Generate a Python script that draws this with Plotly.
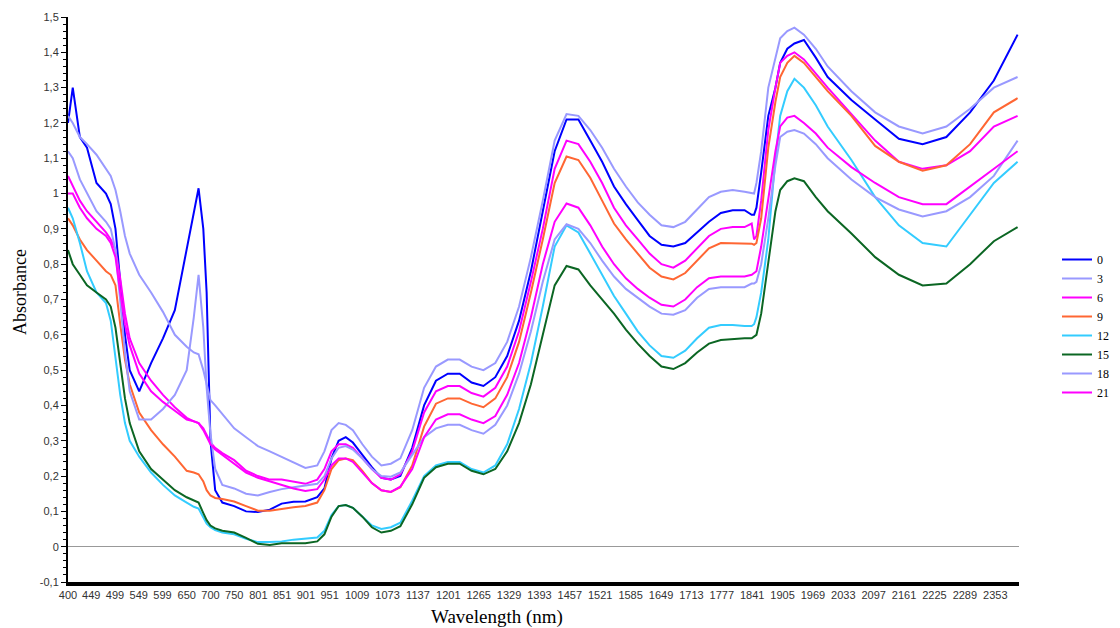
import plotly.graph_objects as go

wavelength = [400, 410, 425, 440, 460, 480, 490, 500, 510, 520, 530, 550, 575, 600, 625, 650, 665, 675, 685, 692,
              700, 710, 725, 750, 775, 800, 825, 850, 875, 900, 925, 940, 955, 970, 985, 1000, 1020, 1040, 1060, 1080,
              1100, 1125, 1150, 1175, 1200, 1225, 1250, 1275, 1300, 1325, 1350, 1375, 1400, 1425, 1450, 1475, 1500,
              1525, 1550, 1575, 1600, 1625, 1650, 1675, 1700, 1725, 1750, 1775, 1800, 1825, 1840, 1845, 1850, 1860,
              1875, 1890, 1900, 1915, 1930, 1950, 1975, 2000, 2050, 2100, 2150, 2200, 2250, 2300, 2350, 2400]

s0 = [1.20, 1.30, 1.16, 1.13, 1.03, 1.00, 0.97, 0.90, 0.75, 0.60, 0.50, 0.44, 0.52, 0.59, 0.67, 0.84, 0.95, 1.015, 0.90, 0.72,
      0.30, 0.16, 0.125, 0.115, 0.10, 0.098, 0.105, 0.122, 0.127, 0.128, 0.14, 0.165, 0.25, 0.30, 0.31, 0.295, 0.26, 0.225, 0.195, 0.19,
      0.20, 0.28, 0.40, 0.47, 0.49, 0.49, 0.465, 0.455, 0.48, 0.54, 0.64, 0.78, 0.95, 1.12, 1.21, 1.21, 1.15,
      1.09, 1.02, 0.97, 0.925, 0.88, 0.855, 0.85, 0.86, 0.89, 0.92, 0.945, 0.953, 0.953, 0.94, 0.94, 0.96, 1.06,
      1.22, 1.30, 1.37, 1.41, 1.425, 1.435, 1.385, 1.33, 1.265, 1.21, 1.155, 1.14, 1.16, 1.23, 1.32, 1.45]

s3 = [1.22, 1.20, 1.16, 1.14, 1.11, 1.07, 1.05, 1.01, 0.95, 0.88, 0.83, 0.77, 0.72, 0.665, 0.60, 0.566, 0.55, 0.545, 0.50, 0.46,
      0.415, 0.40, 0.375, 0.335, 0.31, 0.285, 0.27, 0.255, 0.24, 0.223, 0.23, 0.27, 0.33, 0.35, 0.345, 0.33, 0.29, 0.255, 0.23, 0.235,
      0.25, 0.33, 0.45, 0.51, 0.53, 0.53, 0.51, 0.50, 0.52, 0.58, 0.68, 0.82, 0.98, 1.15, 1.225, 1.22, 1.18,
      1.13, 1.07, 1.02, 0.975, 0.94, 0.91, 0.905, 0.92, 0.955, 0.99, 1.005, 1.01, 1.005, 1.00, 1.00, 1.03, 1.12,
      1.30, 1.38, 1.44, 1.46, 1.47, 1.45, 1.41, 1.36, 1.29, 1.23, 1.19, 1.17, 1.19, 1.24, 1.30, 1.33]

s6 = [1.05, 1.02, 0.98, 0.95, 0.92, 0.89, 0.87, 0.84, 0.76, 0.66, 0.59, 0.52, 0.47, 0.43, 0.395, 0.365, 0.355, 0.35, 0.335, 0.315,
      0.295, 0.28, 0.265, 0.245, 0.215, 0.20, 0.19, 0.19, 0.185, 0.178, 0.19, 0.22, 0.27, 0.29, 0.29, 0.28, 0.25, 0.22, 0.195, 0.19,
      0.205, 0.27, 0.38, 0.44, 0.455, 0.455, 0.435, 0.425, 0.45, 0.51, 0.61, 0.75, 0.90, 1.07, 1.15, 1.14, 1.09,
      1.03, 0.96, 0.91, 0.87, 0.83, 0.80, 0.79, 0.81, 0.845, 0.88, 0.90, 0.905, 0.905, 0.915, 0.87, 0.88, 0.98,
      1.18, 1.30, 1.37, 1.39, 1.40, 1.38, 1.34, 1.30, 1.225, 1.15, 1.09, 1.07, 1.08, 1.12, 1.19, 1.22]

s9 = [0.93, 0.91, 0.87, 0.84, 0.81, 0.78, 0.77, 0.74, 0.63, 0.53, 0.46, 0.38, 0.33, 0.29, 0.255, 0.215, 0.21, 0.205, 0.185, 0.16,
      0.145, 0.138, 0.135, 0.128, 0.115, 0.102, 0.102, 0.108, 0.112, 0.115, 0.125, 0.16, 0.22, 0.245, 0.25, 0.245, 0.215, 0.18, 0.16, 0.155,
      0.168, 0.23, 0.34, 0.405, 0.42, 0.42, 0.405, 0.395, 0.42, 0.48, 0.58, 0.72, 0.87, 1.03, 1.105, 1.095, 1.045,
      0.98, 0.915, 0.87, 0.83, 0.79, 0.765, 0.757, 0.775, 0.81, 0.845, 0.86, 0.86, 0.86, 0.858, 0.855, 0.86, 0.93,
      1.13, 1.26, 1.33, 1.37, 1.39, 1.37, 1.33, 1.29, 1.22, 1.135, 1.09, 1.065, 1.08, 1.14, 1.23, 1.27]

s12 = [0.96, 0.93, 0.86, 0.78, 0.72, 0.69, 0.64, 0.54, 0.43, 0.35, 0.30, 0.255, 0.21, 0.175, 0.145, 0.125, 0.113, 0.108, 0.085, 0.065,
       0.055, 0.047, 0.04, 0.035, 0.022, 0.013, 0.013, 0.015, 0.02, 0.022, 0.026, 0.045, 0.09, 0.115, 0.118, 0.11, 0.085, 0.06, 0.05, 0.055,
       0.068, 0.13, 0.20, 0.23, 0.24, 0.24, 0.22, 0.21, 0.23, 0.29, 0.39, 0.52, 0.68, 0.85, 0.91, 0.89, 0.83,
       0.77, 0.71, 0.66, 0.61, 0.57, 0.54, 0.535, 0.555, 0.59, 0.62, 0.628, 0.628, 0.625, 0.625, 0.63, 0.65, 0.72,
       0.87, 1.10, 1.22, 1.29, 1.325, 1.30, 1.25, 1.19, 1.095, 0.99, 0.91, 0.86, 0.85, 0.94, 1.03, 1.09]

s15 = [0.84, 0.80, 0.77, 0.74, 0.72, 0.70, 0.68, 0.62, 0.52, 0.42, 0.35, 0.27, 0.22, 0.19, 0.16, 0.14, 0.132, 0.125, 0.095, 0.075,
       0.06, 0.052, 0.045, 0.04, 0.025, 0.008, 0.005, 0.01, 0.01, 0.01, 0.015, 0.035, 0.085, 0.115, 0.118, 0.11, 0.085, 0.055, 0.04, 0.045,
       0.058, 0.12, 0.195, 0.225, 0.235, 0.235, 0.215, 0.205, 0.22, 0.27, 0.35, 0.46, 0.60, 0.74, 0.795, 0.785, 0.74,
       0.70, 0.66, 0.615, 0.575, 0.54, 0.51, 0.503, 0.52, 0.55, 0.575, 0.585, 0.588, 0.59, 0.59, 0.595, 0.60, 0.66,
       0.80, 0.95, 1.01, 1.035, 1.043, 1.035, 0.99, 0.95, 0.887, 0.82, 0.77, 0.74, 0.745, 0.80, 0.865, 0.905]

s18 = [1.12, 1.10, 1.04, 1.00, 0.95, 0.92, 0.90, 0.84, 0.70, 0.55, 0.44, 0.36, 0.36, 0.39, 0.43, 0.50, 0.65, 0.77, 0.62, 0.45,
       0.32, 0.22, 0.175, 0.165, 0.15, 0.145, 0.155, 0.163, 0.168, 0.172, 0.178, 0.20, 0.25, 0.28, 0.285, 0.275, 0.25, 0.22, 0.20, 0.198,
       0.21, 0.26, 0.31, 0.335, 0.345, 0.345, 0.33, 0.32, 0.345, 0.40, 0.49, 0.61, 0.75, 0.87, 0.913, 0.90, 0.86,
       0.81, 0.765, 0.73, 0.705, 0.68, 0.66, 0.657, 0.67, 0.705, 0.73, 0.735, 0.735, 0.735, 0.745, 0.745, 0.75, 0.80,
       0.93, 1.08, 1.16, 1.175, 1.18, 1.17, 1.14, 1.10, 1.04, 0.99, 0.955, 0.935, 0.95, 0.99, 1.05, 1.15]

s21 = [1.00, 1.00, 0.96, 0.93, 0.90, 0.88, 0.86, 0.82, 0.72, 0.63, 0.57, 0.49, 0.44, 0.41, 0.385, 0.36, 0.355, 0.35, 0.33, 0.31,
       0.29, 0.275, 0.26, 0.235, 0.21, 0.195, 0.185, 0.175, 0.165, 0.158, 0.163, 0.19, 0.23, 0.25, 0.25, 0.24, 0.21, 0.18, 0.16, 0.155,
       0.17, 0.22, 0.31, 0.36, 0.375, 0.375, 0.36, 0.35, 0.37, 0.43, 0.52, 0.65, 0.80, 0.92, 0.972, 0.96, 0.91,
       0.85, 0.80, 0.76, 0.73, 0.705, 0.685, 0.68, 0.70, 0.735, 0.76, 0.765, 0.765, 0.765, 0.77, 0.775, 0.78, 0.85,
       0.98, 1.12, 1.19, 1.215, 1.22, 1.20, 1.17, 1.13, 1.075, 1.03, 0.99, 0.97, 0.97, 1.02, 1.07, 1.12]

series_names = ["0", "3", "6", "9", "12", "15", "18", "21"]
series_values = [s0, s3, s6, s9, s12, s15, s18, s21]
series_colors = ["#0000FF", "#9999FF", "#FF00FF", "#FF6633", "#33CCFF", "#0B6623", "#9999FF", "#FF00FF"]

x_ticks = [400, 449, 499, 549, 599, 650, 700, 750, 801, 851, 901, 951, 1009, 1073, 1137, 1201, 1265, 1329, 1393,
           1457, 1521, 1585, 1649, 1713, 1777, 1841, 1905, 1969, 2033, 2097, 2161, 2225, 2289, 2353]
y_ticks = [-0.1, 0, 0.1, 0.2, 0.3, 0.4, 0.5, 0.6, 0.7, 0.8, 0.9, 1.0, 1.1, 1.2, 1.3, 1.4, 1.5]
y_ticktext = ["-0,1", "0", "0,1", "0,2", "0,3", "0,4", "0,5", "0,6", "0,7", "0,8", "0,9", "1",
              "1,1", "1,2", "1,3", "1,4", "1,5"]

fig = go.Figure()
for name, vals, col in zip(series_names, series_values, series_colors):
    fig.add_trace(go.Scatter(x=wavelength, y=vals, mode="lines", name=name,
                             line=dict(color=col, width=2)))

serif = "Liberation Serif, Times New Roman, serif"
tick_font = dict(family="Liberation Sans, Arial, sans-serif", size=11, color="#333333")
pl, pr, pt, pb = 68, 1019, 17, 582
fig.update_layout(
    width=1120, height=628,
    margin=dict(l=pl, r=1120 - pr, t=pt, b=628 - pb, autoexpand=False),
    paper_bgcolor="white", plot_bgcolor="white",
    showlegend=True,
    legend=dict(xref="container", yref="container", x=1057 / 1120, y=1 - 245 / 628,
                xanchor="left", yanchor="top",
                font=dict(family=serif, size=12, color="#000000"),
                tracegroupgap=0, bgcolor="rgba(0,0,0,0)"),
    xaxis=dict(range=[400, 2403], tickmode="array", tickvals=x_ticks,
               ticktext=[str(t) for t in x_ticks], showgrid=False, zeroline=False,
               showline=True, linecolor="black", linewidth=4, ticks="", tickfont=tick_font),
    yaxis=dict(range=[-0.1, 1.5], tickmode="array", tickvals=y_ticks, ticktext=y_ticktext,
               showgrid=False, zeroline=True, zerolinecolor="#999999", zerolinewidth=1,
               showline=True, linecolor="black", linewidth=2, ticks="outside", ticklen=5,
               tickcolor="black", tickwidth=1, tickfont=tick_font,
               minor=dict(dtick=0.02, tick0=0, ticks="outside", ticklen=3, tickcolor="black", showgrid=False)),
    annotations=[
        dict(text="Absorbance", x=(20 - pl) / (pr - pl), y=(pb - 292) / (pb - pt),
             xref="paper", yref="paper", xanchor="center", yanchor="middle",
             showarrow=False, textangle=-90, font=dict(family=serif, size=18, color="black")),
        dict(text="Wavelength (nm)", x=(497 - pl) / (pr - pl), y=(pb - 617) / (pb - pt),
             xref="paper", yref="paper", xanchor="center", yanchor="middle",
             showarrow=False, font=dict(family=serif, size=19, color="black")),
    ],
)

fig.write_html("out.html", config={"displayModeBar": False},
               post_script="document.body.style.margin='0';document.body.style.overflow='hidden';")
